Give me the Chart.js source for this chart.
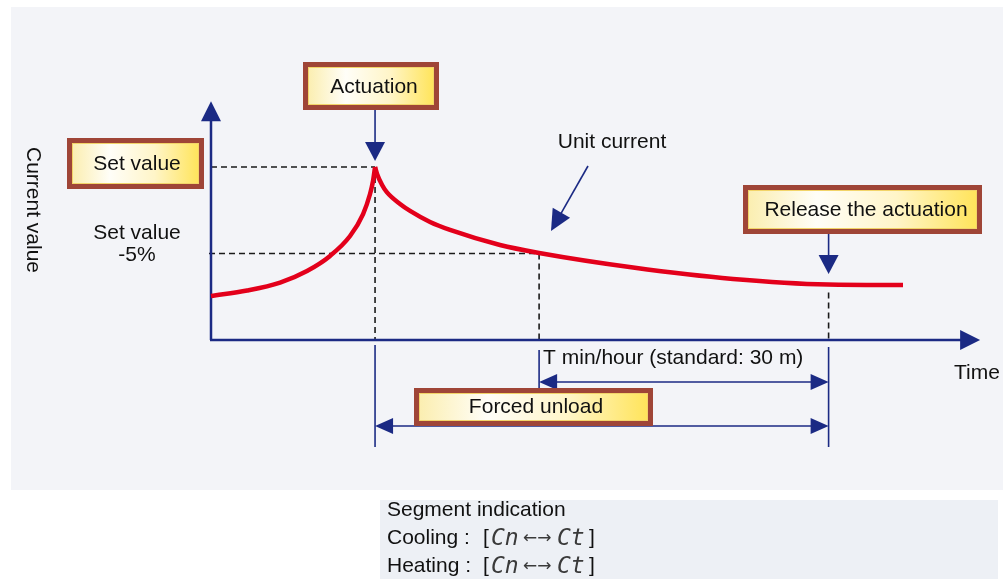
<!DOCTYPE html>
<html>
<head>
<meta charset="utf-8">
<script src="https://cdn.jsdelivr.net/npm/chart.js@4"></script>
<style>
  html, body { margin: 0; padding: 0; background: #fff; }
  canvas { display: block; }
</style>
</head>
<body>
<canvas id="chart" width="1008" height="579"></canvas>
<script>
// unit current curve (time in min, current in % of set value)
const riseTime = [0, 3.74, 7.16, 9.95, 12.34, 14.41, 15.76, 16.48, 16.79, 17];
const riseValue = [92.54, 92.86, 93.32, 93.99, 94.86, 96.01, 97.28, 98.44, 99.19, 100];
const fallTime = [17, 17.21, 17.73, 18.24, 19.59, 20.63, 22.7, 24.77, 29.95, 34, 43.74, 54.1, 63.94, 71.71];
const fallValue = [100, 99.6, 98.96, 98.53, 97.86, 97.46, 96.82, 96.36, 95.49, 95.03, 94.19, 93.53, 93.21, 93.18];

// key levels and times
const setValue = 100;
const setValueLow = 95;
const baseValue = 90;
const actuationTime = 17;
const lowTime = 34;
const releaseTime = 64;
const axisEndTime = 79.7;
const axisEndValue = 103.8;

// texts
const axisTitles = ['Current value', 'Time'];
const boxLabels = ['Actuation', 'Set value', 'Release the actuation', 'Forced unload'];
const noteLabels = ['Set value', '-5%', 'Unit current', 'T min/hour (standard: 30 m)'];
const segmentLines = ['Segment indication', 'Cooling :', 'Heating :'];
const segmentCodes = ['Cn', '←→', 'Ct'];

const NAVY = '#1b2a84';
const RED = '#e3001b';
const FONT = '"Liberation Sans", Arial, sans-serif';

function toPoints(xs, ys) {
  return xs.map((x, i) => ({ x: x, y: ys[i] }));
}

function arrowHead(ctx, tx, ty, angle, len, half) {
  ctx.save();
  ctx.translate(tx, ty);
  ctx.rotate(angle);
  ctx.beginPath();
  ctx.moveTo(0, 0);
  ctx.lineTo(-len, -half);
  ctx.lineTo(-len, half);
  ctx.closePath();
  ctx.fillStyle = NAVY;
  ctx.fill();
  ctx.restore();
}

function line(ctx, x1, y1, x2, y2) {
  ctx.beginPath();
  ctx.moveTo(x1, y1);
  ctx.lineTo(x2, y2);
  ctx.stroke();
}

// yellow label box with brown frame
function labelBox(ctx, x1, y1, x2, y2, text, cx, cy) {
  ctx.fillStyle = '#9f4537';
  ctx.fillRect(x1, y1, x2 - x1, y2 - y1);
  const g = ctx.createLinearGradient(x1 + 5, 0, x2 - 5, 0);
  g.addColorStop(0, '#fbeeb0');
  g.addColorStop(0.3, '#fffef8');
  g.addColorStop(0.65, '#fff5c8');
  g.addColorStop(1, '#ffe45a');
  ctx.fillStyle = g;
  ctx.fillRect(x1 + 5, y1 + 5, x2 - x1 - 10, y2 - y1 - 10);
  ctx.strokeStyle = '#f2d468';
  ctx.lineWidth = 1;
  ctx.strokeRect(x1 + 5.5, y1 + 5.5, x2 - x1 - 11, y2 - y1 - 11);
  ctx.fillStyle = '#111';
  ctx.font = '21px ' + FONT;
  ctx.textAlign = 'center';
  ctx.textBaseline = 'middle';
  ctx.fillText(text, cx, cy);
}

const diagram = {
  id: 'diagram',
  beforeDraw(chart) {
    const ctx = chart.ctx;
    ctx.save();
    ctx.fillStyle = '#ffffff';
    ctx.fillRect(0, 0, chart.width, chart.height);
    ctx.fillStyle = '#f3f4f8';
    ctx.fillRect(11, 7, 992, 483);
    ctx.fillStyle = '#edf0f5';
    ctx.fillRect(380, 500, 618, 79);
    ctx.restore();
  },
  beforeDatasetsDraw(chart) {
    const ctx = chart.ctx;
    const xs = chart.scales.x, ys = chart.scales.y;
    const x0 = xs.getPixelForValue(0);
    const y0 = ys.getPixelForValue(baseValue);
    const xAct = xs.getPixelForValue(actuationTime);
    const xLow = xs.getPixelForValue(lowTime);
    const xRel = xs.getPixelForValue(releaseTime);
    const ySet = ys.getPixelForValue(setValue);
    const yLow = ys.getPixelForValue(setValueLow);
    const yRel = ys.getPixelForValue(fallValue[fallValue.length - 2]);

    ctx.save();
    // dashed guides
    ctx.strokeStyle = '#1a1a1a';
    ctx.lineWidth = 1.6;
    ctx.setLineDash([6, 4]);
    line(ctx, x0, ySet, xAct, ySet);
    line(ctx, x0 - 2, yLow, xLow, yLow);
    line(ctx, xAct, ySet, xAct, y0);
    line(ctx, xLow, yLow, xLow, y0);
    line(ctx, xRel, yRel + 8, xRel, y0);
    ctx.setLineDash([]);

    // axes
    ctx.strokeStyle = NAVY;
    ctx.lineWidth = 2.5;
    const yTip = ys.getPixelForValue(axisEndValue);
    const xTip = xs.getPixelForValue(axisEndTime);
    line(ctx, x0, y0, x0, yTip + 15);
    line(ctx, x0 - 1, y0, xTip - 15, y0);
    arrowHead(ctx, x0, yTip, -Math.PI / 2, 20, 10);
    arrowHead(ctx, xTip, y0, 0, 20, 10);
    ctx.restore();
  },
  afterDatasetsDraw(chart) {
    const ctx = chart.ctx;
    const xs = chart.scales.x, ys = chart.scales.y;
    const y0 = ys.getPixelForValue(baseValue);
    const xAct = xs.getPixelForValue(actuationTime);
    const xLow = xs.getPixelForValue(lowTime);
    const xRel = xs.getPixelForValue(releaseTime);

    ctx.save();
    ctx.strokeStyle = NAVY;
    ctx.lineWidth = 1.6;

    // extension lines below the time axis
    line(ctx, xAct, y0 + 5, xAct, y0 + 107);
    line(ctx, xLow, y0 + 10, xLow, y0 + 50);
    line(ctx, xRel, y0 + 7, xRel, y0 + 107);

    // T min/hour span
    const yT = y0 + 42;
    line(ctx, xLow + 10, yT, xRel - 10, yT);
    arrowHead(ctx, xLow, yT, Math.PI, 18, 8);
    arrowHead(ctx, xRel, yT, 0, 18, 8);

    // forced unload span
    const yF = y0 + 86;
    line(ctx, xAct + 10, yF, xRel - 10, yF);
    arrowHead(ctx, xAct, yF, Math.PI, 18, 8);
    arrowHead(ctx, xRel, yF, 0, 18, 8);

    // pointer arrows
    line(ctx, xAct, 110, xAct, 145);
    arrowHead(ctx, xAct, 161, Math.PI / 2, 19, 10);
    line(ctx, xRel, 233, xRel, 258);
    arrowHead(ctx, xRel, 274, Math.PI / 2, 19, 10);
    const ang = Math.atan2(231 - 166, 551 - 588);
    line(ctx, 588, 166, 551 - 14 * Math.cos(ang), 231 - 14 * Math.sin(ang));
    arrowHead(ctx, 551, 231, ang, 21, 10);

    // label boxes
    labelBox(ctx, 303, 62, 439, 110, boxLabels[0], 374, 87);
    labelBox(ctx, 67, 138, 204, 189, boxLabels[1], 137, 164);
    labelBox(ctx, 743, 185, 982, 234, boxLabels[2], 866, 210);
    labelBox(ctx, 414, 388, 653, 426, boxLabels[3], 536, 407);

    // plain texts
    ctx.fillStyle = '#111';
    ctx.font = '21px ' + FONT;
    ctx.textAlign = 'center';
    ctx.textBaseline = 'middle';
    ctx.fillText(noteLabels[0], 137, 233);
    ctx.fillText(noteLabels[1], 137, 255);
    ctx.fillText(noteLabels[2], 612, 142);
    ctx.fillText(axisTitles[1], 977, 373);
    ctx.textAlign = 'left';
    ctx.fillText(noteLabels[3], xLow + 4, 358);

    ctx.save();
    ctx.translate(33, 210);
    ctx.rotate(Math.PI / 2);
    ctx.textAlign = 'center';
    ctx.fillText(axisTitles[0], 0, 0);
    ctx.restore();

    // segment indication
    ctx.textAlign = 'left';
    ctx.fillText(segmentLines[0], 387, 510);
    [538, 566].forEach((y, i) => {
      ctx.font = '21px ' + FONT;
      ctx.fillStyle = '#111';
      ctx.fillText(segmentLines[i + 1], 387, y);
      ctx.fillText('[', 483, y);
      ctx.fillText(']', 589, y);
      ctx.fillStyle = '#3a3a3a';
      ctx.font = 'italic 23px "DejaVu Sans Mono", monospace';
      ctx.fillText(segmentCodes[0], 491, y + 1);
      ctx.fillText(segmentCodes[2], 557, y + 1);
      ctx.font = '17px "DejaVu Sans", sans-serif';
      ctx.fillText(segmentCodes[1], 523, y + 1);
    });
    ctx.restore();
  }
};

new Chart(document.getElementById('chart'), {
  type: 'line',
  data: {
    datasets: [{
      data: toPoints(riseTime, riseValue),
      borderColor: RED,
      borderWidth: 4.5,
      pointRadius: 0,
      cubicInterpolationMode: 'monotone',
      fill: false
    }, {
      data: toPoints(fallTime, fallValue),
      borderColor: RED,
      borderWidth: 4.5,
      pointRadius: 0,
      cubicInterpolationMode: 'monotone',
      fill: false
    }]
  },
  options: {
    responsive: false,
    animation: false,
    layout: { padding: 0 },
    plugins: { legend: { display: false }, tooltip: { enabled: false } },
    scales: {
      x: { type: 'linear', display: false, min: -21.865, max: 82.591 },
      y: { type: 'linear', display: false, min: 76.185, max: 109.653 }
    }
  },
  plugins: [diagram]
});
</script>
</body>
</html>
